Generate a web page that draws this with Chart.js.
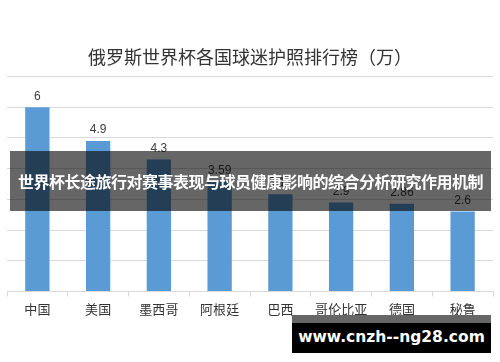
<!DOCTYPE html>
<html><head><meta charset="utf-8">
<script src="https://cdn.jsdelivr.net/npm/chart.js@4"></script>
<style>
html,body{margin:0;padding:0;background:#fff;}
#wrap{position:relative;width:500px;height:362px;}
#banner{position:absolute;left:10px;top:151px;width:481px;height:60px;background:rgba(0,0,0,0.6);color:#fff;font:bold 16px "Noto Sans CJK SC",sans-serif;line-height:60px;text-align:center;white-space:nowrap;letter-spacing:-0.5px;}
#wm1{position:absolute;left:292px;top:315px;width:199px;height:8px;background:#666;}
#wm2{position:absolute;left:292px;top:323px;width:199px;height:30px;background:#000;color:#fff;font:bold 15.5px "DejaVu Sans",sans-serif;line-height:28px;text-align:center;white-space:nowrap;}
</style></head>
<body><div id="wrap"><canvas id="c" width="500" height="362"></canvas>
<div id="banner">世界杯长途旅行对赛事表现与球员健康影响的综合分析研究作用机制</div>
<div id="wm1"></div><div id="wm2">www.cnzh--ng28.com</div></div>
<script>
const titleText = '俄罗斯世界杯各国球迷护照排行榜（万）';
const categories = ['中国','美国','墨西哥','阿根廷','巴西','哥伦比亚','德国','秘鲁'];
const values = [6, 4.9, 4.3, 3.59, 3.17, 2.9, 2.86, 2.6];
const valueLabels = ['6','4.9','4.3','3.59','3.17','2.9','2.86','2.6'];

const labelPlugin = {
  id:'valLabels',
  afterDatasetsDraw(chart){
    const ctx = chart.ctx;
    const meta = chart.getDatasetMeta(0);
    ctx.save();
    ctx.font = '12px "Liberation Sans", sans-serif';
    ctx.fillStyle = '#404040';
    ctx.textAlign = 'center';
    ctx.textBaseline = 'middle';
    meta.data.forEach((bar,i)=>{ ctx.fillText(valueLabels[i], bar.x, bar.y - 11); });
    ctx.restore();
  }
};

new Chart(document.getElementById('c'), {
  type:'bar',
  data:{labels:categories, datasets:[{data:values, backgroundColor:'#5b9bd5', barPercentage:0.4, categoryPercentage:1}]},
  options:{
    responsive:false, animation:false,
    layout:{padding:{left:7,right:7,top:0,bottom:40}},
    plugins:{
      legend:{display:false}, tooltip:{enabled:false},
      title:{display:true, text:titleText, color:'#333333', font:{size:18, family:'"Noto Sans CJK SC", sans-serif', weight:'normal'}, padding:{top:46,bottom:9}}
    },
    scales:{
      x:{grid:{display:true, drawOnChartArea:false, drawTicks:true, tickLength:5, color:'#d9d9d9', offset:true},
         border:{display:true, color:'#d9d9d9'},
         ticks:{color:'#333333', font:{size:13, family:'"Noto Sans CJK SC", serif'}, padding:5}},
      y:{min:0, max:7, grid:{color:'#d9d9d9', drawTicks:false}, border:{display:false},
         ticks:{display:false, stepSize:1}}
    }
  },
  plugins:[labelPlugin]
});
</script></body></html>
